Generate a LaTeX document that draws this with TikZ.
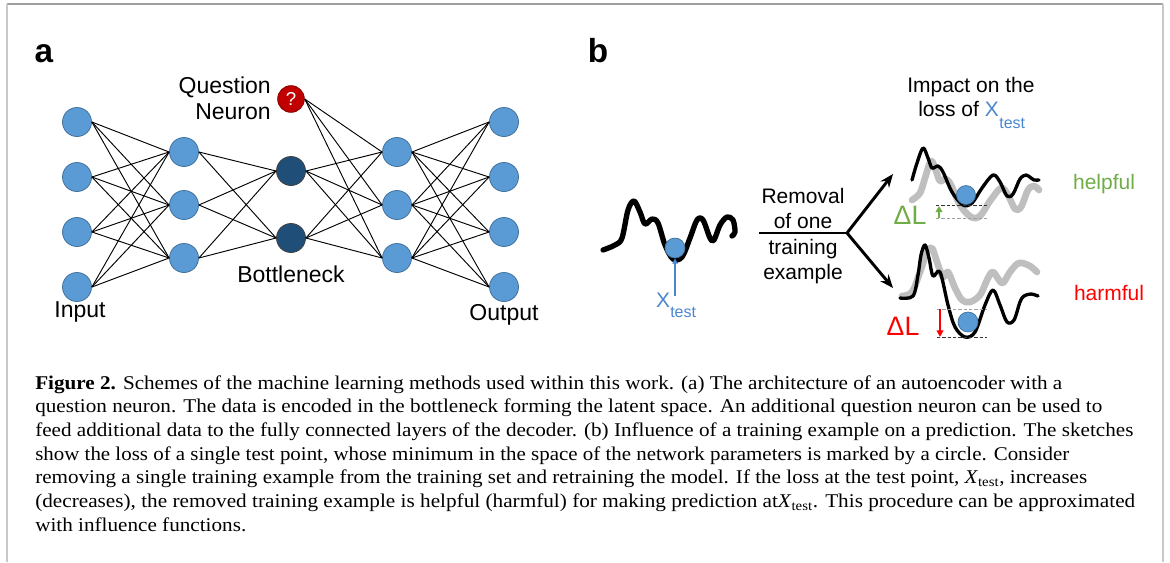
\documentclass[tikz,border=0pt]{standalone}
\usepackage{fontspec}
\setmainfont{Liberation Serif}
\setsansfont{Liberation Sans}
\usepackage{graphicx}
\usetikzlibrary{arrows.meta}
\definecolor{nblue}{HTML}{5B9BD5}
\definecolor{nbluedark}{HTML}{41719C}
\definecolor{bneck}{HTML}{1F4E79}
\definecolor{qred}{HTML}{C00000}
\definecolor{lgray}{HTML}{BFBFBF}
\definecolor{dgray}{HTML}{A0A0A0}
\definecolor{hgreen}{HTML}{70AD47}
\definecolor{hred}{HTML}{FF0000}
\definecolor{xblue}{HTML}{4A86CF}
\definecolor{framegray}{HTML}{C8C8C8}
\newcommand\capfont{\rmfamily\fontsize{14.6}{16}\selectfont}
\newcommand\xtest{\textit{X}\textsubscript{test}}
\newcommand\capline[2]{\resizebox{#1}{\height}{#2}}
\begin{document}
\begin{tikzpicture}[x=0.75pt,y=-0.75pt,
  neuron/.style={circle, fill=nblue, draw=nbluedark, line width=0.6pt, minimum size=21.75pt, inner sep=0pt},
  bneuron/.style={neuron, fill=bneck, draw=black!75},
  qneuron/.style={circle, fill=qred, draw=qred!70!black, line width=0.6pt, minimum size=20pt, inner sep=0pt,
     text=white, font=\sffamily\fontsize{14}{14}\selectfont},
  conn/.style={line width=0.7pt, black},
  lbl/.style={inner sep=0pt, font=\sffamily\fontsize{17.25}{20}\selectfont},
  plbl/.style={inner sep=0pt, font=\sffamily\bfseries\fontsize{25}{28}\selectfont},
  btext/.style={inner sep=0pt, font=\sffamily\fontsize{15.75}{18.75}\selectfont},
  dtext/.style={inner sep=0pt, font=\sffamily\fontsize{20}{22}\selectfont},
  subt/.style={inner sep=0pt, font=\sffamily\fontsize{12}{14}\selectfont},
  ball/.style={circle, fill=nblue, draw=nbluedark, line width=0.5pt, minimum size=15pt, inner sep=0pt},
  blackcurve/.style={line width=2.5pt, line cap=round, line join=round, black},
  graycurve/.style={line width=5pt, line cap=round, line join=round, lgray},
  dashblack/.style={line width=0.75pt, dash pattern=on 2.5pt off 1.5pt, black!80},
  dashgray/.style={line width=0.75pt, dash pattern=on 2.5pt off 1.5pt, dgray},
  fork/.style={line width=2.2pt, black},
  forkarrow/.style={fork, -{Stealth[length=10pt, width=8pt]}},
  caption/.style={inner sep=0pt, anchor=base west, font=\capfont}
]
\useasboundingbox (0,0) rectangle (1170,562);
% frame
\draw[line width=1.1pt, gray!75] (7,4) -- (1163,4);
\draw[line width=1.5pt, framegray] (7,4) -- (7,562);
\draw[line width=1.8pt, framegray] (1163,4) -- (1163,562);

% ---------------- panel a ----------------
\node[plbl, anchor=base] (la) at (44,62) {a};
\foreach \i/\y in {1/122,2/177,3/232,4/287} \node[neuron] (in\i) at (77,\y) {};
\foreach \i/\y in {1/152,2/205,3/258} \node[neuron] (h\i) at (184,\y) {};
\node[bneuron] (b1) at (291,171) {};
\node[bneuron] (b2) at (291,238) {};
\node[qneuron] (q) at (291,99) {?};
\foreach \i/\y in {1/152,2/205,3/258} \node[neuron] (d\i) at (397,\y) {};
\foreach \i/\y in {1/122,2/177,3/232,4/287} \node[neuron] (out\i) at (504,\y) {};

\foreach \i in {1,...,4} \foreach \j in {1,2,3} \draw[conn] (in\i.east) -- (h\j.west);
\foreach \i in {1,2,3} \foreach \j in {1,2} \draw[conn] (h\i.east) -- (b\j.west);
\foreach \i in {1,2} \foreach \j in {1,2,3} \draw[conn] (b\i.east) -- (d\j.west);
\foreach \j in {1,2,3} \draw[conn] (q.east) -- (d\j.west);
\foreach \i in {1,2,3} \foreach \j in {1,...,4} \draw[conn] (d\i.east) -- (out\j.west);

\node[lbl, anchor=east] (qt1) at (271,87) {Question};
\node[lbl, anchor=east] (qt2) at (271,112) {Neuron};
\node[lbl] (tb) at (291,274) {Bottleneck};
\node[lbl] (ti) at (80,312) {Input};
\node[lbl] (to) at (504,315) {Output};

% ---------------- panel b ----------------
\node[plbl, anchor=base] (lb) at (598,62) {b};

% left curve
\draw[line width=4pt, line cap=round, line join=round] plot[smooth, tension=0.55] coordinates
 {(603,250) (615,245) (622,238) (628,210) (634,201) (640,212) (645,224) (652,219) (658,223) (665,245) (673,259) (682,257) (690,238) (697,220) (703,220) (710,238) (714,240) (720,225) (727,217) (733,220) (735,232) (732,236)};
\node[ball] (ball0) at (675,248) {};
\node[inner sep=0pt, anchor=base, text=xblue, font=\sffamily\fontsize{15.75}{18}\selectfont] (xt) at (663,307) {X};
\node[subt, anchor=base west, text=xblue] (xts) at (670,317) {test};
\coordinate (xtip) at (675,296);
\draw[xblue, line width=0.9pt, -{Triangle[length=4pt, width=4pt]}] (xtip) -- (ball0.south);

% removal text and fork
\node[btext, align=center, font=\sffamily\fontsize{15.75}{18.9}\selectfont] (rem) at (803,236) {Removal\\of one\\training\\example};
\coordinate (s0) at (759,233);
\coordinate (fk) at (847,233);
\coordinate (up) at (893,174);
\coordinate (dn) at (893,288);
\draw[fork] (s0) -- (fk);
\draw[forkarrow] (fk) -- (up);
\draw[forkarrow] (fk) -- (dn);

% heading
\node[btext, anchor=base west] (imp) at (907,92) {Impact on the};
\node[btext, anchor=base west] (loss) at (918,116) {loss of \textcolor{xblue}{X}};
\node[subt, anchor=base west, text=xblue] (losst) at (loss.base east) [yshift=-9pt] {test};

% upper sketch
\draw[graycurve] plot[smooth, tension=0.55] coordinates
 {(912,200) (920,193) (925,178) (931,161) (936,171) (940,181) (946,179) (951,185) (960,205) (971,217) (980,216) (990,201) (1001,188) (1008,195) (1015,209) (1021,207) (1028,190) (1034,186) (1039,190)};
\draw[blackcurve] plot[smooth, tension=0.55] coordinates
 {(912,180) (917,163) (923,148) (928,158) (932,168) (938,166) (943,172) (952,192) (963,205) (972,203) (982,188) (993,175) (1000,182) (1007,196) (1013,194) (1020,179) (1026,175) (1031,178) (1034,180) (1039,180)};
\node[ball, minimum size=14.25pt] (ball1) at (966,195) {};
\coordinate (ua1) at (936,205); \coordinate (ua2) at (987,205);
\coordinate (ub1) at (936,218); \coordinate (ub2) at (987,218);
\draw[dashblack] (ua1) -- (ua2);
\draw[dashgray] (ub1) -- (ub2);
\coordinate (ga1) at (939,218); \coordinate (ga2) at (939,206);
\draw[hgreen, line width=1.3pt, -{Triangle[length=4.5pt, width=5pt]}] (ga1) -- (ga2);
\node[dtext, text=hgreen] (dl1) at (910,215) {ΔL};
\node[btext, text=hgreen] (help) at (1104,184) {helpful};

% lower sketch
\draw[graycurve] plot[smooth, tension=0.55] coordinates
 {(902,296) (912,292) (920,272) (927,252) (932,248) (937,262) (943,277) (948,272) (955,288) (962,300) (970,302) (980,295) (988,278) (993,272) (999,280) (1003,283) (1010,272) (1017,264) (1022,263) (1030,266) (1037,272)};
\draw[blackcurve] plot[smooth, tension=0.55] coordinates
 {(900,298) (913,296) (918,275) (921,255) (925,245) (929,258) (933,276) (940,272) (948,305) (955,327) (965,337) (975,332) (985,305) (993,290) (1000,305) (1007,322) (1014,320) (1020,302) (1024,296) (1031,294) (1038,296)};
\node[ball] (ball2) at (968,322) {};
\coordinate (la1) at (937,309); \coordinate (la2) at (987,309);
\coordinate (lb1) at (937,337); \coordinate (lb2) at (987,337);
\draw[dashgray] (la1) -- (la2);
\draw[dashblack] (lb1) -- (lb2);
\coordinate (ra1) at (940,309); \coordinate (ra2) at (940,337);
\draw[hred, line width=1.3pt, -{Triangle[length=5pt, width=5pt]}] (ra1) -- (ra2);
\node[dtext, text=hred] (dl2) at (903,326) {ΔL};
\node[btext, text=hred] (harm) at (1109,293) {harmful};

% ---------------- caption ----------------
\node[caption] (cap1) at (35,389.0) {\capline{770.25pt}{\textbf{Figure 2.} Schemes of the machine learning methods used within this work. (a) The architecture of an autoencoder with a}};
\node[caption] (cap2) at (35,412.7) {\capline{800.25pt}{question neuron. The data is encoded in the bottleneck forming the latent space. An additional question neuron can be used to}};
\node[caption] (cap3) at (35,436.4) {\capline{823.5pt}{feed additional data to the fully connected layers of the decoder. (b) Influence of a training example on a prediction. The sketches}};
\node[caption] (cap4) at (35,460.1) {\capline{775.5pt}{show the loss of a single test point, whose minimum in the space of the network parameters is marked by a circle. Consider}};
\node[caption] (cap5) at (35,483.8) {\capline{789pt}{removing a single training example from the training set and retraining the model. If the loss at the test point, \xtest, increases}};
\node[caption] (cap6) at (35,507.5) {\capline{825pt}{(decreases), the removed training example is helpful (harmful) for making prediction at\xtest. This procedure can be approximated}};
\node[caption] (cap7) at (35,531.2) {\capline{158.25pt}{with influence functions.}};
\end{tikzpicture}
\end{document}
